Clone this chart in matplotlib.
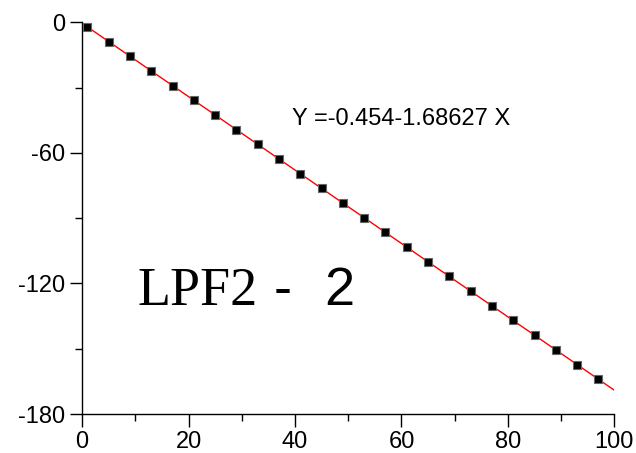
import numpy as np
import matplotlib
matplotlib.use("Agg")
import matplotlib.pyplot as plt
from matplotlib.ticker import MultipleLocator

# measured points
x_data = [1, 5, 9, 13, 17, 21, 25, 29, 33, 37, 41, 45, 49,
          53, 57, 61, 65, 69, 73, 77, 81, 85, 89, 93, 97]
y_data = [-2.1, -8.9, -15.6, -22.4, -29.1, -35.9, -42.6, -49.4, -56.1,
          -62.8, -69.6, -76.3, -83.1, -89.8, -96.6, -103.3, -110.1,
          -116.8, -123.5, -130.3, -137.0, -143.8, -150.5, -157.3, -164.0]

# linear fit from the reference
intercept = -0.454
slope = -1.68627
fit_x = [0, 100]

eq_label = "Y =-0.454-1.68627 X"
title_parts = ["LPF2", "-", "2"]
y_ticks = [0, -60, -120, -180]
x_ticks = [0, 20, 40, 60, 80, 100]

fig = plt.figure(figsize=(6.36, 4.53), dpi=100)
ax = fig.add_axes([0.129, 0.086, 0.837, 0.865])

fx = np.array(fit_x, dtype=float)
ax.plot(fx, intercept + slope * fx, color="red", lw=1.0, zorder=2)
ax.plot(x_data, y_data, "s", ms=6, mfc="black", mec="#666666", mew=0.8,
        zorder=3, clip_on=False)

ax.set_xlim(0, 100)
ax.set_ylim(-180, 0)
ax.set_xticks(x_ticks)
ax.set_yticks(y_ticks)
ax.set_yticklabels([str(v) for v in y_ticks])
ax.xaxis.set_minor_locator(MultipleLocator(10))
ax.yaxis.set_minor_locator(MultipleLocator(30))

for s in ["top", "right"]:
    ax.spines[s].set_visible(False)
for s in ["left", "bottom"]:
    ax.spines[s].set_linewidth(1.0)

ax.tick_params(which="major", direction="out", length=9, width=1.0,
               labelsize=17, pad=3)
ax.tick_params(which="minor", direction="out", length=5, width=1.0)
for lab in ax.get_xticklabels() + ax.get_yticklabels():
    lab.set_fontfamily("Liberation Sans")

ax.text(39.5, -44.3, eq_label, fontsize=17, family="Liberation Sans",
        va="center", ha="left")
# title drawn in three pieces, spaced like the reference
ax.text(10.5, -129.7, title_parts[0], fontsize=39, family="Liberation Serif",
        va="baseline", ha="left")
ax.text(36.0, -129.7, title_parts[1], fontsize=39, family="Liberation Sans",
        va="baseline", ha="left")
ax.text(45.5, -129.7, title_parts[2], fontsize=39, family="Liberation Sans",
        va="baseline", ha="left")

fig.savefig("out.png", dpi=100)
